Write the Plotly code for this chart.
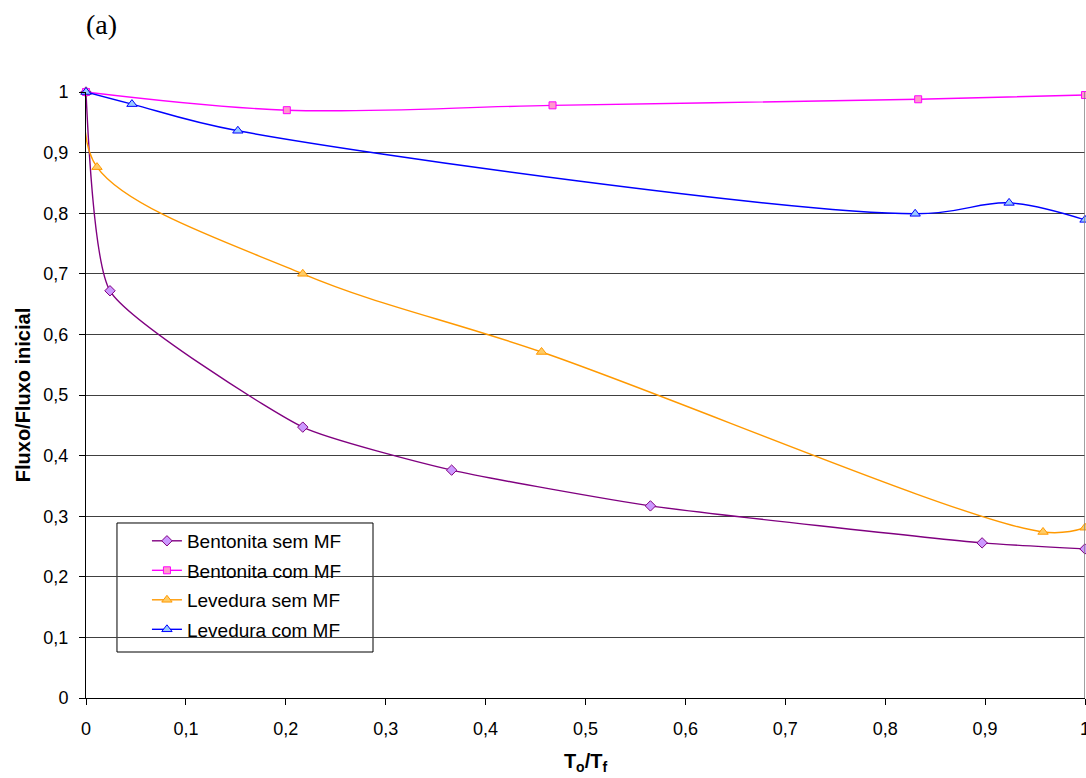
import plotly.graph_objects as go

# Data
bent_sem_x = [0.0, 0.024, 0.217, 0.366, 0.565, 0.897, 1.0]
bent_sem_y = [1.0, 0.672, 0.447, 0.376, 0.317, 0.256, 0.246]

bent_com_x = [0.0, 0.201, 0.467, 0.833, 1.0]
bent_com_y = [1.0, 0.970, 0.978, 0.988, 0.995]

lev_sem_x = [0.0, 0.011, 0.217, 0.456, 0.958, 1.0]
lev_sem_y = [1.0, 0.876, 0.700, 0.571, 0.274, 0.281]

lev_com_x = [0.0, 0.046, 0.152, 0.830, 0.924, 1.0]
lev_com_y = [1.0, 0.980, 0.936, 0.799, 0.817, 0.789]

series = [
    ("Bentonita sem MF", bent_sem_x, bent_sem_y, "#800080", "#CC99FF", "diamond", 8, 0.5),
    ("Bentonita com MF", bent_com_x, bent_com_y, "#FF00FF", "#FF99CC", "square", 7, 1.0),
    ("Levedura sem MF", lev_sem_x, lev_sem_y, "#FF9900", "#FFCC66", "triangle-up", 9, 1.0),
    ("Levedura com MF", lev_com_x, lev_com_y, "#0000FF", "#99CCFF", "triangle-up", 9, 1.0),
]

fig = go.Figure()
for i, (name, xs, ys, lc, fc, sym, sz, sm) in enumerate(series):
    fig.add_trace(go.Scatter(
        x=xs, y=ys, name=name, mode="lines+markers", legendgroup="g%d" % i,
        line=dict(color=lc, width=1.4, shape="spline", smoothing=sm),
        marker=dict(symbol=sym, size=sz, color=fc, line=dict(color=lc, width=1)),
        cliponaxis=False,
    ))

fig.update_layout(
    width=1086, height=778,
    margin=dict(l=86, r=1, t=92, b=80),
    paper_bgcolor="white", plot_bgcolor="white",
    separators=", ",
    font=dict(family="Liberation Sans, Arial, sans-serif", size=18, color="black"),
    showlegend=True,
    legend=dict(
        x=0.061, y=0.2905, xanchor="left", yanchor="top",
        bgcolor="rgba(0,0,0,0)", borderwidth=0,
        font=dict(size=19), tracegroupgap=1.8, itemwidth=30,
    ),
    xaxis=dict(
        range=[0, 1], dtick=0.1, tick0=0, showgrid=False,
        showline=True, linecolor="black", linewidth=1,
        ticks="outside", ticklen=6, tickcolor="black", ticklabelstandoff=8,
        ticklabeloverflow="allow", automargin=False,
        zeroline=False,
        title=dict(text="<b>T<sub>o</sub>/T<sub>f</sub></b>", font=dict(size=20), standoff=16),
    ),
    yaxis=dict(
        range=[0, 1], dtick=0.1, tick0=0, showgrid=True, gridcolor="#404040", gridwidth=1,
        showline=True, linecolor="black", linewidth=1,
        ticks="outside", ticklen=6, tickcolor="black", ticklabelstandoff=7,
        automargin=False,
        zeroline=False,
        title=dict(text="<b>Fluxo/Fluxo inicial</b>", font=dict(size=20), standoff=7),
    ),
    shapes=[
        dict(type="line", xref="x", yref="y", x0=1, x1=1, y0=0, y1=1,
             line=dict(color="#808080", width=1.5)),
        dict(type="rect", xref="paper", yref="paper", x0=0.031, x1=0.2873, y0=0.0759, y1=0.2888,
             fillcolor="white", line=dict(color="black", width=1), layer="between"),
    ],
    annotations=[dict(text="(a)", xref="paper", yref="paper", x=-0.002, y=1.111,
                      xanchor="left", yanchor="middle", showarrow=False,
                      font=dict(family="Liberation Serif, Times New Roman, serif", size=28))],
)

fig.write_html(
    "out.html",
    config={"displayModeBar": False},
    post_script="document.body.style.margin='0';document.body.style.overflow='hidden';",
)
